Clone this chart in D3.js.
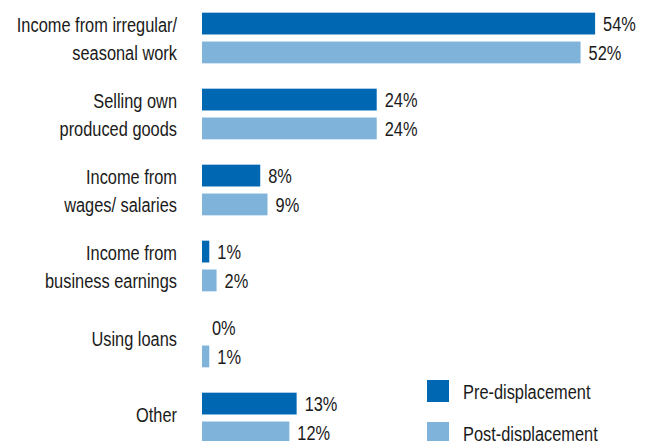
<!DOCTYPE html>
<html>
<head>
<meta charset="utf-8">
<script src="https://cdn.jsdelivr.net/npm/d3@7"></script>
<style>
  html, body { margin: 0; padding: 0; background: #fff; }
  svg { display: block; }
  text { font-family: "Liberation Sans", Arial, sans-serif; fill: #1a1a1a; }
</style>
</head>
<body>
<svg id="chart" width="651" height="441"></svg>
<script>
// Sources of income, share of households before and after displacement (%)
const categories = [
  "Income from irregular/ seasonal work",
  "Selling own produced goods",
  "Income from wages/ salaries",
  "Income from business earnings",
  "Using loans",
  "Other"
];
const categoryLines = [
  ["Income from irregular/", "seasonal work"],
  ["Selling own", "produced goods"],
  ["Income from", "wages/ salaries"],
  ["Income from", "business earnings"],
  ["Using loans"],
  ["Other"]
];
const seriesNames = ["Pre-displacement", "Post-displacement"];
const preValues  = [54, 24, 8, 1, 0, 13];
const postValues = [52, 24, 9, 2, 1, 12];
const seriesColors = ["#0068b3", "#80b3d9"];

const svg = d3.select("#chart");
const fontSize = 21;
const squeeze = 0.78; // condensed lettering

// place a horizontally condensed text at (px, py)
function label(sel, px, py, anchor) {
  return sel.append("text")
    .attr("transform", `translate(${px},${py}) scale(${squeeze},1)`)
    .attr("text-anchor", anchor || "start")
    .attr("dy", "0.36em")
    .style("font-size", fontSize + "px");
}

const y0 = d3.scaleBand()
  .domain(categories)
  .range([0, 456])
  .paddingInner(1 / 3)
  .paddingOuter(1 / 6);

const y1 = d3.scaleBand()
  .domain(seriesNames)
  .range([0, y0.bandwidth()])
  .paddingInner(0.244);

const x = d3.scaleLinear()
  .domain([0, 60])
  .range([202, 202 + 7.28 * 60]);

const color = d3.scaleOrdinal().domain(seriesNames).range(seriesColors);

const rows = categories.map((c, i) => ({
  cat: c,
  lines: categoryLines[i],
  vals: [
    { s: seriesNames[0], v: preValues[i] },
    { s: seriesNames[1], v: postValues[i] }
  ]
}));

const groups = svg.selectAll("g.cat")
  .data(rows)
  .join("g")
  .attr("class", "cat")
  .attr("transform", d => `translate(0,${y0(d.cat)})`);

// bars
groups.selectAll("rect")
  .data(d => d.vals)
  .join("rect")
  .attr("x", x(0))
  .attr("y", d => y1(d.s))
  .attr("width", d => x(d.v) - x(0))
  .attr("height", y1.bandwidth())
  .attr("fill", d => color(d.s))
  .attr("stroke", d => d.v === 0 ? "#c9d9e8" : "none")
  .attr("stroke-width", 1);

// value labels and category labels
const lineH = 28.5;
groups.each(function (d) {
  const g = d3.select(this);
  d.vals.forEach(v => {
    const gap = v.v === 0 ? 10 : 8;
    label(g, x(v.v) + gap, y1(v.s) + y1.bandwidth() / 2).text(v.v + "%");
  });
  const n = d.lines.length;
  const shift = n === 1 ? -4 : 0.5;
  d.lines.forEach((t, k) => {
    label(g, 177, y0.bandwidth() / 2 + shift + (k - (n - 1) / 2) * lineH, "end").text(t);
  });
});

// legend
const legend = svg.append("g").attr("transform", "translate(427,380)");
seriesNames.forEach((s, i) => {
  const li = legend.append("g").attr("transform", `translate(0,${i * 42})`);
  li.append("rect")
    .attr("width", 22)
    .attr("height", 22)
    .attr("fill", color(s));
  label(li, 36, 11).text(s);
});
</script>
</body>
</html>
